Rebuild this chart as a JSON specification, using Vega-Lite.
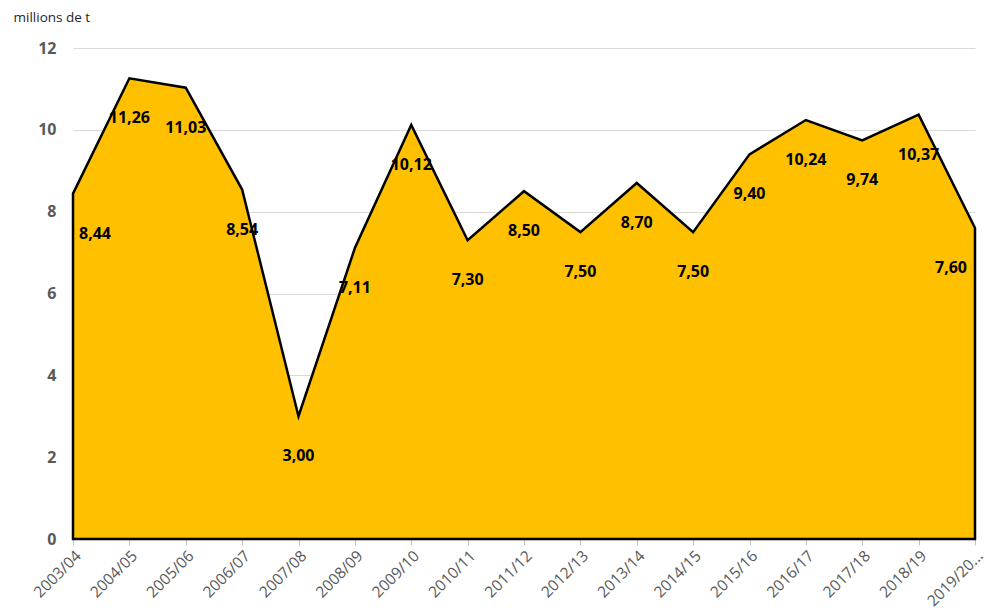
{
  "$schema": "https://vega.github.io/schema/vega-lite/v6.json",
  "width": 902,
  "height": 491,
  "autosize": {"type": "none"},
  "padding": {"left": 73, "top": 48, "right": 14, "bottom": 77},
  "config": {
    "view": {"stroke": null},
    "font": "Open Sans",
    "locale": {"number": {"decimal": ",", "thousands": " ", "grouping": [3], "currency": ["", " €"]}}
  },
  "data": {
    "values": [
      {"year": "2003/04", "v": 8.44},
      {"year": "2004/05", "v": 11.26},
      {"year": "2005/06", "v": 11.03},
      {"year": "2006/07", "v": 8.54},
      {"year": "2007/08", "v": 3.0},
      {"year": "2008/09", "v": 7.11},
      {"year": "2009/10", "v": 10.12},
      {"year": "2010/11", "v": 7.3},
      {"year": "2011/12", "v": 8.5},
      {"year": "2012/13", "v": 7.5},
      {"year": "2013/14", "v": 8.7},
      {"year": "2014/15", "v": 7.5},
      {"year": "2015/16", "v": 9.4},
      {"year": "2016/17", "v": 10.24},
      {"year": "2017/18", "v": 9.74},
      {"year": "2018/19", "v": 10.37},
      {"year": "2019/20...", "v": 7.6}
    ]
  },
  "encoding": {
    "x": {
      "field": "year",
      "type": "ordinal",
      "sort": null,
      "scale": {"type": "point", "padding": 0},
      "axis": {
        "title": null,
        "labelAngle": -45,
        "labelFontSize": 15.5,
        "labelColor": "#595959",
        "domainColor": "#808080",
        "tickColor": "#bfbfbf",
        "tickSize": 6,
        "labelPadding": 3,
        "labelLimit": 200,
        "grid": false
      }
    },
    "y": {
      "field": "v",
      "type": "quantitative",
      "scale": {"domain": [0, 12], "nice": false},
      "axis": {
        "values": [0, 2, 4, 6, 8, 10, 12],
        "format": "d",
        "title": "millions de t",
        "titleAngle": 0,
        "titleAlign": "left",
        "titleBaseline": "alphabetic",
        "titleX": -60,
        "titleY": -27,
        "titleFontSize": 13.5,
        "titleFontWeight": "normal",
        "titleColor": "#262626",
        "labelFontSize": 16,
        "labelFontWeight": "bold",
        "labelColor": "#595959",
        "labelPadding": 17,
        "domain": false,
        "ticks": false,
        "gridColor": "#d9d9d9",
        "gridWidth": 1
      }
    }
  },
  "layer": [
    {"mark": {"type": "area", "fill": "#FFC000", "stroke": "black", "strokeWidth": 2.5, "fillOpacity": 1}},
    {
      "transform": [{"filter": "datum.year != '2003/04' && datum.year != '2019/20...'"}],
      "mark": {"type": "text", "dy": 40, "fontWeight": "bold", "fontSize": 16, "color": "black"},
      "encoding": {"text": {"field": "v", "type": "quantitative", "format": ".2f"}}
    },
    {
      "transform": [{"filter": "datum.year == '2003/04'"}],
      "mark": {"type": "text", "dy": 40, "dx": 6, "align": "left", "fontWeight": "bold", "fontSize": 16, "color": "black"},
      "encoding": {"text": {"field": "v", "type": "quantitative", "format": ".2f"}}
    },
    {
      "transform": [{"filter": "datum.year == '2019/20...'"}],
      "mark": {"type": "text", "dy": 40, "dx": -8, "align": "right", "fontWeight": "bold", "fontSize": 16, "color": "black"},
      "encoding": {"text": {"field": "v", "type": "quantitative", "format": ".2f"}}
    }
  ]
}
